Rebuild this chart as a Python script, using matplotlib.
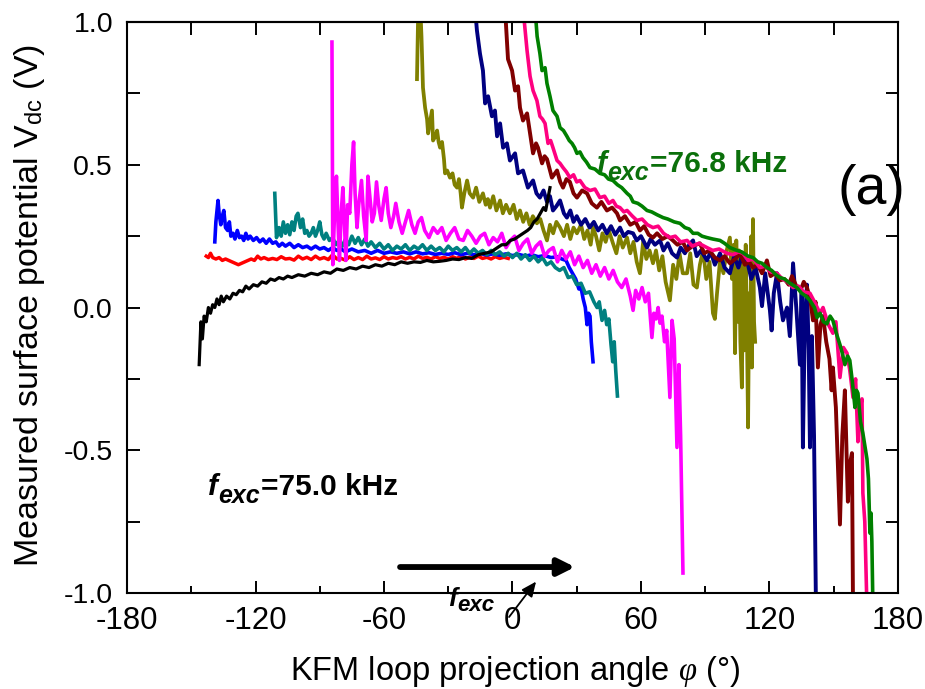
import matplotlib
matplotlib.use("Agg")
import matplotlib.pyplot as plt
from matplotlib.ticker import MultipleLocator, FormatStrFormatter
import numpy as np

plt.rcParams['font.family'] = ['Liberation Sans', 'DejaVu Sans']
plt.rcParams['axes.unicode_minus'] = False
plt.rcParams['mathtext.fontset'] = 'custom'
plt.rcParams['mathtext.rm'] = 'Liberation Sans'
plt.rcParams['mathtext.it'] = 'Liberation Serif:italic'

# ---- measured loops: (projection angle phi in deg, surface potential Vdc in V) ----
loop_black = [(-146.3, -0.20), (-145.5, -0.05), (-144.8, -0.11), (-144.0, -0.03), (-143.0, -0.05),
              (-142.0, 0.00), (-141.0, -0.02), (-140.0, 0.01), (-139.0, 0.00), (-138.0, 0.03),
              (-137.0, 0.01), (-136.0, 0.04), (-135.0, 0.02), (-133.5, 0.04), (-132.0, 0.03),
              (-130.5, 0.05), (-129.0, 0.045), (-127.5, 0.06), (-126.0, 0.055), (-124.5, 0.075),
              (-123.0, 0.065), (-121.0, 0.08), (-119.0, 0.075), (-117.0, 0.09), (-115.0, 0.085),
              (-113.0, 0.10), (-111.0, 0.095), (-109.0, 0.105), (-107.0, 0.10), (-105.0, 0.11),
              (-103.0, 0.105), (-100.0, 0.115), (-97.0, 0.11), (-94.0, 0.12), (-91.0, 0.115),
              (-88.0, 0.125), (-85.0, 0.12), (-82.0, 0.135), (-79.0, 0.13), (-76.0, 0.14),
              (-73.0, 0.135), (-70.0, 0.145), (-67.0, 0.14), (-64.0, 0.15), (-61.0, 0.145),
              (-58.0, 0.155), (-55.0, 0.15), (-52.0, 0.16), (-49.0, 0.155), (-46.0, 0.16),
              (-43.0, 0.158), (-40.0, 0.165), (-37.0, 0.16), (-34.0, 0.162), (-31.0, 0.165),
              (-28.0, 0.17), (-25.0, 0.168), (-22.0, 0.175), (-19.0, 0.172), (-16.0, 0.185),
              (-13.0, 0.19), (-10.0, 0.195), (-7.0, 0.21), (-5.0, 0.22), (-3.0, 0.22),
              (-1.0, 0.235), (1.0, 0.24), (3.0, 0.25), (5.0, 0.26), (7.0, 0.27), (8.5, 0.28),
              (10.0, 0.30), (11.5, 0.31), (13.0, 0.33), (14.5, 0.35), (15.5, 0.34), (16.5, 0.38),
              (17.5, 0.42)]

loop_red = [(-143.0, 0.18), (-142.0, 0.175), (-141.0, 0.19), (-140.0, 0.175), (-138.5, 0.17),
            (-137.0, 0.175), (-135.5, 0.165), (-134.0, 0.17), (-132.5, 0.165), (-131.0, 0.16),
            (-129.5, 0.155), (-128.0, 0.15), (-126.5, 0.155), (-125.0, 0.16), (-123.5, 0.165),
            (-122.0, 0.17), (-120.5, 0.165), (-119.0, 0.18), (-117.5, 0.17), (-116.0, 0.175),
            (-114.0, 0.168), (-112.0, 0.172), (-110.0, 0.168), (-108.0, 0.178), (-106.0, 0.17),
            (-104.0, 0.172), (-102.0, 0.166), (-100.0, 0.18), (-98.0, 0.17), (-96.0, 0.176),
            (-94.0, 0.168), (-92.0, 0.18), (-90.0, 0.17), (-88.0, 0.175), (-86.0, 0.168),
            (-84.0, 0.185), (-82.0, 0.17), (-80.0, 0.172), (-78.0, 0.166), (-76.0, 0.178),
            (-74.0, 0.168), (-72.0, 0.175), (-70.0, 0.168), (-68.0, 0.18), (-66.0, 0.17),
            (-64.0, 0.174), (-62.0, 0.168), (-60.0, 0.178), (-58.0, 0.17), (-56.0, 0.175),
            (-54.0, 0.172), (-52.0, 0.178), (-50.0, 0.17), (-48.0, 0.176), (-46.0, 0.17),
            (-44.0, 0.18), (-42.0, 0.172), (-40.0, 0.176), (-38.0, 0.17), (-36.0, 0.178),
            (-34.0, 0.172), (-32.0, 0.176), (-30.0, 0.17), (-28.0, 0.178), (-26.0, 0.172),
            (-24.0, 0.18), (-22.0, 0.17), (-20.0, 0.176), (-18.0, 0.172), (-16.0, 0.18),
            (-14.0, 0.172), (-12.0, 0.176), (-10.0, 0.17), (-8.0, 0.178), (-6.0, 0.172),
            (-4.0, 0.176), (-2.0, 0.172)]

loop_blue = [(-139.0, 0.23), (-138.5, 0.30), (-137.5, 0.375), (-137.0, 0.33), (-136.2, 0.29),
             (-135.5, 0.32), (-134.8, 0.34), (-134.0, 0.28), (-133.0, 0.27), (-132.2, 0.30),
             (-131.5, 0.25), (-130.5, 0.26), (-129.6, 0.24), (-128.5, 0.27), (-127.5, 0.245),
             (-126.5, 0.25), (-125.5, 0.235), (-124.5, 0.26), (-123.5, 0.24), (-122.5, 0.25),
             (-121.0, 0.235), (-119.5, 0.245), (-118.0, 0.23), (-116.5, 0.24), (-115.0, 0.225),
             (-113.5, 0.24), (-112.0, 0.225), (-110.5, 0.23), (-109.0, 0.215), (-107.5, 0.225),
             (-106.0, 0.215), (-104.0, 0.225), (-102.0, 0.21), (-100.0, 0.22), (-98.0, 0.21),
             (-96.0, 0.215), (-94.0, 0.205), (-92.0, 0.215), (-90.0, 0.205), (-88.0, 0.21),
             (-86.0, 0.20), (-84.0, 0.21), (-82.0, 0.20), (-80.0, 0.205), (-78.0, 0.195),
             (-75.0, 0.205), (-72.0, 0.195), (-69.0, 0.20), (-66.0, 0.19), (-63.0, 0.20),
             (-60.0, 0.19), (-57.0, 0.195), (-54.0, 0.19), (-51.0, 0.195), (-48.0, 0.188),
             (-45.0, 0.195), (-42.0, 0.188), (-39.0, 0.192), (-36.0, 0.186), (-33.0, 0.19),
             (-30.0, 0.186), (-27.0, 0.192), (-24.0, 0.185), (-21.0, 0.19), (-18.0, 0.185),
             (-15.0, 0.19), (-12.0, 0.184), (-9.0, 0.188), (-6.0, 0.183), (-3.0, 0.188),
             (0.0, 0.182), (3.0, 0.186), (6.0, 0.18), (9.0, 0.185), (12.0, 0.178), (15.0, 0.182),
             (18.0, 0.175), (21.0, 0.178), (23.0, 0.17), (25.0, 0.165), (26.5, 0.14), (28.0, 0.12),
             (29.5, 0.10), (31.0, 0.065), (32.0, 0.07), (33.0, 0.03), (34.0, 0.0), (34.8, -0.06),
             (35.5, -0.02), (36.2, -0.03), (36.8, -0.12), (37.6, -0.19)]

loop_teal = [(-111.0, 0.40), (-110.2, 0.245), (-109.0, 0.28), (-108.0, 0.25), (-107.0, 0.30),
             (-106.0, 0.26), (-105.0, 0.29), (-104.0, 0.255), (-103.0, 0.30), (-102.0, 0.27),
             (-101.0, 0.32), (-100.2, 0.33), (-99.0, 0.28), (-98.0, 0.31), (-97.0, 0.26),
             (-96.0, 0.27), (-95.0, 0.25), (-94.0, 0.26), (-93.0, 0.28), (-92.0, 0.25),
             (-91.0, 0.27), (-90.0, 0.30), (-89.0, 0.255), (-88.0, 0.24), (-87.0, 0.26),
             (-85.5, 0.235), (-84.0, 0.245), (-82.5, 0.22), (-81.0, 0.235), (-79.5, 0.215),
             (-78.0, 0.24), (-76.5, 0.22), (-75.0, 0.25), (-73.5, 0.225), (-72.0, 0.245),
             (-70.5, 0.22), (-69.0, 0.24), (-67.5, 0.215), (-66.0, 0.23), (-64.0, 0.21),
             (-62.0, 0.225), (-60.0, 0.205), (-58.0, 0.22), (-56.0, 0.20), (-54.0, 0.215),
             (-52.0, 0.205), (-50.0, 0.22), (-48.0, 0.20), (-46.0, 0.215), (-44.0, 0.205),
             (-42.0, 0.22), (-40.0, 0.20), (-38.0, 0.215), (-36.0, 0.20), (-34.0, 0.21),
             (-32.0, 0.195), (-30.0, 0.215), (-28.0, 0.20), (-26.0, 0.21), (-24.0, 0.195),
             (-22.0, 0.21), (-20.0, 0.19), (-18.0, 0.205), (-16.0, 0.19), (-14.0, 0.20),
             (-12.0, 0.185), (-10.0, 0.20), (-8.0, 0.185), (-6.0, 0.195), (-4.0, 0.18),
             (-2.0, 0.19), (0.0, 0.175), (2.0, 0.19), (4.0, 0.17), (6.0, 0.185), (8.0, 0.165),
             (10.0, 0.18), (12.0, 0.16), (14.0, 0.175), (16.0, 0.15), (18.0, 0.16), (20.0, 0.14),
             (22.0, 0.13), (24.0, 0.14), (26.0, 0.105), (28.0, 0.11), (30.0, 0.08), (32.0, 0.085),
             (34.0, 0.05), (36.0, 0.055), (38.0, 0.02), (39.5, 0.0), (40.5, 0.02), (41.8, -0.045),
             (43.0, -0.01), (44.0, -0.06), (45.0, -0.04), (46.0, -0.13), (46.8, -0.19),
             (47.5, -0.12), (48.2, -0.22), (49.0, -0.31)]

loop_magenta = [(-84.3, 0.93), (-83.9, 0.15), (-83.0, 0.35), (-82.2, 0.46), (-81.5, 0.30),
                (-80.8, 0.165), (-80.0, 0.33), (-79.2, 0.42), (-78.5, 0.30), (-77.8, 0.165),
                (-77.0, 0.36), (-76.0, 0.33), (-75.0, 0.50), (-74.2, 0.58), (-73.5, 0.40),
                (-72.6, 0.28), (-71.8, 0.36), (-70.5, 0.445), (-69.5, 0.32), (-68.3, 0.235),
                (-67.5, 0.46), (-66.5, 0.38), (-65.5, 0.30), (-64.5, 0.33), (-63.5, 0.44),
                (-62.5, 0.36), (-61.3, 0.305), (-60.0, 0.38), (-59.0, 0.42), (-58.0, 0.33),
                (-56.8, 0.28), (-55.5, 0.32), (-54.5, 0.365), (-53.0, 0.30), (-51.5, 0.26),
                (-50.0, 0.30), (-48.5, 0.34), (-47.0, 0.29), (-45.5, 0.26), (-44.0, 0.30),
                (-42.5, 0.315), (-41.0, 0.27), (-39.0, 0.245), (-37.0, 0.28), (-35.0, 0.26),
                (-33.0, 0.28), (-31.0, 0.235), (-29.0, 0.26), (-27.0, 0.28), (-25.0, 0.24),
                (-23.0, 0.235), (-21.0, 0.27), (-19.0, 0.25), (-17.0, 0.225), (-15.0, 0.25),
                (-13.0, 0.26), (-11.0, 0.22), (-9.0, 0.245), (-7.0, 0.23), (-5.0, 0.26),
                (-3.0, 0.21), (-1.0, 0.235), (1.0, 0.25), (3.0, 0.20), (5.0, 0.225), (7.0, 0.24),
                (9.0, 0.19), (11.0, 0.215), (13.0, 0.23), (15.0, 0.18), (17.0, 0.20), (19.0, 0.21),
                (21.0, 0.16), (23.0, 0.20), (25.0, 0.17), (27.0, 0.195), (29.0, 0.15), (31.0, 0.18),
                (33.0, 0.14), (35.0, 0.165), (37.0, 0.12), (39.0, 0.15), (41.0, 0.11), (43.0, 0.14),
                (45.0, 0.10), (47.0, 0.13), (49.0, 0.09), (51.0, 0.07), (53.0, 0.10), (55.0, 0.04),
                (56.3, -0.01), (57.5, 0.06), (59.0, 0.03), (60.5, 0.07), (62.0, 0.02), (63.5, 0.05),
                (65.1, -0.105), (66.0, -0.02), (67.0, -0.04), (68.0, 0.0), (68.9, -0.055),
                (69.8, -0.03), (71.0, -0.12), (72.0, -0.08), (73.5, -0.315), (74.5, -0.045),
                (75.5, -0.11), (76.8, -0.49), (77.7, -0.20), (78.5, -0.45), (79.6, -0.93)]

loop_olive = [(-44.6, 0.80), (-44.0, 1.05), (-43.2, 1.08), (-42.5, 0.95), (-41.8, 0.77),
              (-40.8, 0.70), (-39.9, 0.66), (-39.4, 0.61), (-38.5, 0.65), (-37.6, 0.69),
              (-37.1, 0.585), (-36.0, 0.60), (-35.2, 0.62), (-34.5, 0.58), (-33.8, 0.56),
              (-32.9, 0.58), (-32.0, 0.52), (-31.5, 0.47), (-30.5, 0.48), (-29.2, 0.455),
              (-28.0, 0.47), (-27.0, 0.43), (-25.9, 0.42), (-25.0, 0.45), (-24.2, 0.40),
              (-23.6, 0.35), (-22.5, 0.40), (-21.2, 0.445), (-20.0, 0.40), (-18.4, 0.385),
              (-17.0, 0.42), (-15.5, 0.37), (-13.8, 0.40), (-12.5, 0.36), (-11.5, 0.38),
              (-10.5, 0.35), (-9.0, 0.39), (-7.5, 0.34), (-5.8, 0.375), (-4.5, 0.33),
              (-3.0, 0.36), (-1.2, 0.33), (0.5, 0.36), (2.0, 0.31), (3.5, 0.34), (5.0, 0.30),
              (6.5, 0.33), (8.0, 0.29), (9.5, 0.32), (11.4, 0.295), (13.0, 0.31), (14.5, 0.27),
              (16.1, 0.235), (17.5, 0.29), (19.0, 0.26), (20.5, 0.30), (22.2, 0.28), (24.0, 0.25),
              (25.5, 0.29), (27.0, 0.24), (28.5, 0.28), (30.1, 0.26), (32.0, 0.29), (33.5, 0.24),
              (35.0, 0.27), (36.5, 0.22), (37.6, 0.28), (39.0, 0.25), (40.5, 0.20), (42.0, 0.26),
              (43.5, 0.23), (45.0, 0.27), (46.9, 0.225), (48.5, 0.19), (50.0, 0.25), (51.5, 0.21),
              (53.5, 0.245), (55.0, 0.19), (56.5, 0.23), (58.0, 0.16), (59.5, 0.12), (61.0, 0.23),
              (62.5, 0.17), (64.0, 0.20), (65.6, 0.155), (67.0, 0.20), (68.5, 0.13), (70.0, 0.18),
              (71.5, 0.09), (73.5, 0.025), (75.0, 0.15), (76.5, 0.10), (78.0, 0.19), (79.5, 0.12),
              (81.5, 0.12), (83.0, 0.19), (84.5, 0.08), (86.1, 0.07), (87.5, 0.15), (89.0, 0.20),
              (90.5, 0.10), (92.0, 0.16), (93.6, -0.02), (94.5, -0.04), (95.5, 0.05), (96.9, 0.165),
              (98.5, 0.12), (100.0, 0.20), (101.5, 0.245), (102.5, 0.10), (103.3, 0.22),
              (103.9, -0.16), (104.5, 0.235), (105.2, -0.05), (105.8, 0.20), (106.4, -0.12),
              (107.1, -0.28), (107.7, 0.18), (108.3, -0.15), (108.9, 0.22), (109.5, -0.10),
              (110.0, -0.42), (110.5, 0.05), (111.0, -0.18), (111.5, 0.25), (111.8, -0.21),
              (112.3, 0.31), (112.8, -0.05), (113.3, -0.12)]

loop_navy = [(-17.5, 1.05), (-16.6, 0.97), (-15.2, 0.89), (-13.8, 0.83), (-12.8, 0.715),
             (-11.4, 0.74), (-9.6, 0.67), (-8.2, 0.69), (-7.2, 0.60), (-5.8, 0.645), (-4.4, 0.56),
             (-2.6, 0.575), (-1.2, 0.515), (1.2, 0.54), (2.6, 0.47), (4.9, 0.48), (7.2, 0.42),
             (9.6, 0.445), (11.2, 0.40), (12.8, 0.385), (14.5, 0.41), (16.1, 0.37), (17.5, 0.39),
             (18.9, 0.34), (20.5, 0.355), (22.2, 0.375), (24.0, 0.33), (25.4, 0.315), (27.0, 0.34),
             (28.5, 0.30), (30.0, 0.32), (32.0, 0.29), (34.0, 0.31), (36.0, 0.28), (38.0, 0.30),
             (40.0, 0.27), (42.0, 0.29), (44.0, 0.26), (46.0, 0.285), (48.0, 0.255), (50.2, 0.28),
             (52.0, 0.25), (54.0, 0.265), (56.3, 0.26), (58.0, 0.235), (60.0, 0.25), (62.8, 0.21),
             (64.5, 0.24), (66.5, 0.22), (68.9, 0.235), (70.5, 0.20), (72.5, 0.225), (74.5, 0.19),
             (76.8, 0.175), (78.5, 0.21), (80.5, 0.19), (82.5, 0.22), (84.3, 0.235), (86.0, 0.18),
             (88.0, 0.20), (90.8, 0.165), (92.5, 0.195), (94.5, 0.15), (96.9, 0.19), (99.0, 0.14),
             (101.5, 0.12), (103.5, 0.18), (105.5, 0.14), (107.5, 0.19), (109.5, 0.165),
             (111.5, 0.10), (113.5, 0.14), (115.5, 0.07), (116.5, 0.005), (118.0, 0.12),
             (120.2, -0.01), (121.0, -0.08), (122.0, 0.05), (123.5, 0.12), (125.0, 0.02),
             (126.3, -0.045), (128.2, 0.0), (129.5, -0.10), (131.0, 0.155), (132.5, 0.0),
             (134.2, -0.20), (135.0, 0.05), (135.6, -0.49), (136.5, -0.05), (137.5, 0.08),
             (138.3, -0.15), (138.9, -0.49), (139.8, -0.10), (140.8, -0.45), (141.7, -1.05)]

loop_maroon = [(-3.5, 1.05), (-2.1, 0.87), (-0.2, 0.83), (1.2, 0.76), (2.6, 0.775), (3.5, 0.70),
               (4.9, 0.655), (6.8, 0.68), (8.2, 0.61), (9.6, 0.54), (11.0, 0.575), (11.9, 0.56),
               (13.8, 0.505), (15.0, 0.53), (16.1, 0.52), (18.4, 0.455), (20.8, 0.48), (22.3, 0.44),
               (23.6, 0.42), (25.2, 0.45), (26.8, 0.44), (28.5, 0.40), (30.1, 0.385), (32.5, 0.41),
               (34.8, 0.40), (37.0, 0.365), (39.4, 0.35), (41.5, 0.37), (44.1, 0.34), (46.5, 0.35),
               (48.8, 0.33), (50.2, 0.305), (52.5, 0.32), (55.0, 0.29), (57.5, 0.30), (59.5, 0.27),
               (61.5, 0.285), (63.6, 0.255), (65.6, 0.245), (67.5, 0.26), (70.0, 0.24), (72.5, 0.25),
               (74.9, 0.235), (77.0, 0.22), (79.5, 0.23), (81.5, 0.20), (84.0, 0.215), (87.5, 0.225),
               (89.5, 0.19), (92.0, 0.20), (94.5, 0.175), (96.9, 0.165), (99.0, 0.18), (101.5, 0.155),
               (104.0, 0.17), (106.2, 0.19), (108.5, 0.15), (110.5, 0.16), (112.3, 0.14), (114.5, 0.15),
               (116.5, 0.12), (118.8, 0.165), (120.5, 0.11), (122.5, 0.12), (124.9, 0.095),
               (127.0, 0.10), (129.0, 0.08), (130.5, 0.11), (132.8, 0.07), (134.5, 0.06), (136.0, 0.09),
               (137.5, 0.07), (139.0, 0.03), (140.3, -0.045), (141.5, 0.02), (142.6, -0.21),
               (143.8, -0.06), (145.0, -0.03), (146.5, -0.12), (148.0, -0.18), (149.0, -0.29),
               (149.6, -0.21), (151.0, -0.35), (152.9, -0.76), (154.0, -0.45), (155.2, -0.29),
               (156.6, -0.68), (157.5, -0.55), (158.5, -0.51), (159.0, -1.05)]

loop_pink = [(4.9, 1.05), (6.8, 0.90), (8.2, 0.81), (9.6, 0.76), (11.4, 0.725), (12.8, 0.67),
             (14.0, 0.66), (15.2, 0.645), (16.6, 0.575), (17.8, 0.585), (18.9, 0.56), (20.8, 0.515),
             (22.2, 0.505), (23.6, 0.49), (25.2, 0.475), (26.8, 0.455), (28.5, 0.465), (30.0, 0.44),
             (31.5, 0.445), (33.8, 0.42), (36.2, 0.41), (38.5, 0.415), (40.8, 0.385), (43.0, 0.39),
             (45.0, 0.365), (46.9, 0.375), (48.5, 0.355), (50.2, 0.35), (52.0, 0.335), (53.5, 0.34),
             (56.0, 0.32), (58.1, 0.305), (60.5, 0.31), (63.0, 0.29), (65.6, 0.28), (68.0, 0.285),
             (70.5, 0.26), (73.5, 0.245), (76.0, 0.25), (78.5, 0.23), (81.5, 0.235), (84.0, 0.215),
             (87.0, 0.225), (90.8, 0.21), (93.5, 0.20), (96.5, 0.205), (100.1, 0.19), (103.0, 0.185),
             (105.5, 0.195), (107.6, 0.19), (110.0, 0.165), (112.5, 0.17), (115.5, 0.14),
             (118.0, 0.145), (120.5, 0.125), (123.5, 0.12), (126.0, 0.10), (128.5, 0.09),
             (131.0, 0.07), (133.5, 0.075), (136.0, 0.055), (138.9, 0.05), (141.0, 0.02),
             (143.6, -0.02), (145.0, 0.0), (147.5, -0.06), (149.6, -0.09), (151.0, -0.05),
             (152.9, -0.245), (154.5, -0.14), (156.2, -0.16), (157.5, -0.22), (159.0, -0.315),
             (160.2, -0.25), (161.3, -0.47), (162.3, -0.35), (163.2, -0.32), (163.6, -0.65),
             (164.5, -0.75), (165.5, -1.05)]

loop_green = [(10.5, 1.05), (11.5, 0.95), (12.8, 0.89), (13.8, 0.83), (15.2, 0.84), (16.1, 0.785),
              (17.5, 0.74), (18.9, 0.69), (20.8, 0.67), (22.2, 0.63), (23.8, 0.62), (25.4, 0.60),
              (26.5, 0.585), (27.8, 0.575), (29.0, 0.56), (30.1, 0.54), (31.5, 0.545), (32.9, 0.525),
              (34.5, 0.51), (36.2, 0.49), (38.5, 0.485), (40.8, 0.47), (43.0, 0.465), (44.8, 0.45),
              (46.9, 0.445), (49.0, 0.43), (51.0, 0.42), (53.5, 0.40), (55.0, 0.39), (56.3, 0.37),
              (58.5, 0.365), (60.5, 0.355), (62.8, 0.34), (65.0, 0.335), (67.5, 0.325), (70.3, 0.315),
              (72.5, 0.31), (75.5, 0.30), (78.2, 0.295), (80.5, 0.28), (82.5, 0.275), (84.3, 0.26),
              (86.5, 0.26), (88.5, 0.25), (90.8, 0.245), (93.5, 0.24), (96.9, 0.235), (99.0, 0.225),
              (101.5, 0.21), (104.8, 0.20), (107.0, 0.195), (110.0, 0.18), (112.3, 0.175),
              (114.5, 0.16), (116.5, 0.155), (118.8, 0.14), (121.0, 0.13), (123.0, 0.115),
              (124.9, 0.105), (127.0, 0.10), (129.5, 0.085), (132.8, 0.07), (135.0, 0.05),
              (137.0, 0.04), (138.9, 0.025), (141.0, 0.0), (142.2, -0.035), (143.6, -0.02),
              (145.2, -0.05), (146.8, -0.057), (148.3, -0.03), (149.6, -0.045), (151.2, -0.09),
              (152.9, -0.13), (154.0, -0.16), (155.2, -0.20), (156.5, -0.17), (157.5, -0.185),
              (158.7, -0.26), (159.9, -0.35), (160.6, -0.29), (161.3, -0.30), (162.5, -0.40),
              (163.6, -0.44), (165.5, -0.53), (166.2, -0.60), (166.9, -0.79), (167.4, -0.72),
              (167.8, -0.82), (168.3, -1.05)]

x_major = [-180, -120, -60, 0, 60, 120, 180]
x_labels = ['-180', '-120', '-60', '0', '60', '120', '180']
y_major = [-1.0, -0.5, 0.0, 0.5, 1.0]

# drawing order: lower curves first, black reference on top
curves = [
    (loop_red, '#ff0000', 2.5),
    (loop_blue, '#0000ff', 2.6),
    (loop_teal, '#008080', 2.6),
    (loop_magenta, '#ff00ff', 2.6),
    (loop_olive, '#808000', 2.7),
    (loop_navy, '#000080', 2.8),
    (loop_maroon, '#800000', 2.8),
    (loop_pink, '#ff0080', 2.6),
    (loop_green, '#008000', 2.6),
    (loop_black, '#000000', 2.3),
]

fig = plt.figure(figsize=(9.25, 6.89), dpi=100)
ax = fig.add_axes([0.1373, 0.1393, 0.8335, 0.8287])

for pts, color, lw in curves:
    arr = np.array(pts)
    ax.plot(arr[:, 0], arr[:, 1], color=color, lw=lw)

ax.set_xlim(-180, 180)
ax.set_ylim(-1, 1)

for sp in ax.spines.values():
    sp.set_linewidth(1.5)

ax.set_xticks(x_major)
ax.set_xticklabels(x_labels)
ax.xaxis.set_minor_locator(MultipleLocator(30))
ax.tick_params(axis='x', which='major', direction='in', length=9, width=1.4,
               labelsize=22.5, pad=9, top=False)
ax.tick_params(axis='x', which='minor', direction='in', length=5, width=1.4, top=False)

top = ax.secondary_xaxis('top')
top.xaxis.set_major_locator(MultipleLocator(30))
top.tick_params(direction='in', length=9, width=1.4, labeltop=False)
top.spines['top'].set_linewidth(1.5)

ax.set_yticks(y_major)
ax.yaxis.set_major_formatter(FormatStrFormatter('%.1f'))
ax.yaxis.set_minor_locator(MultipleLocator(0.25))
ax.tick_params(axis='y', which='both', direction='in', length=9, width=1.4,
               right=True, labelsize=20.5, pad=10)

ax.set_xlabel('KFM loop projection angle $\\varphi$ (°)', fontsize=23.5)
ax.xaxis.set_label_coords(0.503, -0.106)
ax.set_ylabel('Measured surface potential V$_{\\rm dc}$ (V)', fontsize=24.5)
ax.yaxis.set_label_coords(-0.104, 0.504)


def fexc_label(x, y, rest, color, size, sub_size, drop=5.0):
    """Bold italic f with a bold italic 'exc' subscript, followed by plain bold text."""
    t1 = ax.text(x, y, 'f', fontsize=size, fontstyle='italic', fontweight='bold',
                 color=color, ha='left', va='baseline')
    t2 = ax.annotate('exc', xy=(1, 0), xycoords=t1, xytext=(0.5, -drop),
                     textcoords='offset points', fontsize=sub_size, fontstyle='italic',
                     fontweight='bold', color=color, ha='left', va='bottom')
    if rest:
        ax.annotate(rest, xy=(1, 0), xycoords=t2, xytext=(0.5, drop + 0.3),
                    textcoords='offset points', fontsize=size, fontweight='bold',
                    color=color, ha='left', va='bottom')


fexc_label(39.4, 0.474, '=76.8 kHz', '#0b700b', 21.5, 18)
fexc_label(-142.2, -0.657, '=75.0 kHz', '#000000', 21.5, 18)
fexc_label(-30.1, -1.046, '', '#000000', 19, 16, drop=3.5)

ax.text(167.4, 0.41, '(a)', fontsize=40, ha='center', va='center')

# sweep direction arrow
ax.annotate('', xy=(29.2, -0.909), xytext=(-52.5, -0.909),
            arrowprops=dict(arrowstyle='-|>,head_length=1.0,head_width=0.5',
                            lw=4.2, color='black', shrinkA=0, shrinkB=0,
                            mutation_scale=10))
ax.annotate('', xy=(11.0, -0.960), xytext=(-1.6, -1.084),
            arrowprops=dict(arrowstyle='-|>,head_length=0.9,head_width=0.4',
                            lw=1.3, color='black', shrinkA=0, shrinkB=0,
                            mutation_scale=10),
            annotation_clip=False)

fig.savefig('out.png', dpi=100)
